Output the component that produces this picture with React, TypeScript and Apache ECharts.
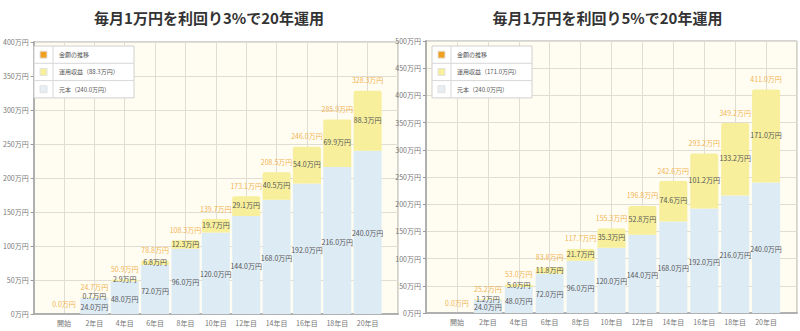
import React, { useEffect, useRef } from "react";
import * as echarts from "echarts";

const categories = ["開始", "2年目", "4年目", "6年目", "8年目", "10年目", "12年目", "14年目", "16年目", "18年目", "20年目"];
const principal = [0, 24, 48, 72, 96, 120, 144, 168, 192, 216, 240];
const gain3 = [0, 0.7, 2.9, 6.8, 12.3, 19.7, 29.1, 40.5, 54.0, 69.9, 88.3];
const total3 = [0.0, 24.7, 50.9, 78.8, 108.3, 139.7, 173.1, 208.5, 246.0, 285.9, 328.3];
const gain5 = [0, 1.2, 5.0, 11.8, 21.7, 35.3, 52.8, 74.6, 101.2, 133.2, 171.0];
const total5 = [0.0, 25.2, 53.0, 83.8, 117.7, 155.3, 196.8, 242.6, 293.2, 349.2, 411.0];
const titles = ["毎月1万円を利回り3%で20年運用", "毎月1万円を利回り5%で20年運用"];
const yMax = [400, 500];

const FONT = '"Noto Sans CJK JP", "Noto Sans", sans-serif';
const C_PRIN = "#ddebf5";
const C_GAIN = "#f7ef9c";
const C_TOTAL = "#f0a020";

const pad = (arr: (number | string)[]) => ["-", ...arr, "-"];

export default function App() {
  const ref = useRef<HTMLDivElement>(null);
  useEffect(() => {
    if (!ref.current) return;
    const chart = echarts.init(ref.current, undefined, { renderer: "svg" });
    const grids = [
      { left: 28, right: 402, top: 42, bottom: 17 },
      { left: 426, right: 3, top: 41, bottom: 18 },
    ];
    const gains = [gain3, gain5];
    const totals = [total3, total5];
    const fmt = (p: any) => {
      const v = Number(p.value);
      return v > 0 ? v.toFixed(1) + "万円" : "";
    };
    const xAxis: any[] = [];
    const yAxis: any[] = [];
    const series: any[] = [];
    const graphic: any[] = [];
    [0, 1].forEach((i) => {
      xAxis.push({
        type: "category",
        gridIndex: i,
        boundaryGap: false,
        data: ["", ...categories, ""],
        axisLine: { lineStyle: { color: "#b0b0b0", width: 2 } },
        axisTick: { show: false },
        axisLabel: { interval: 0, fontSize: 7, color: "#777", margin: 5, fontFamily: FONT },
        splitLine: { show: true, lineStyle: { color: "#e0ddd3", width: 1 } },
      });
      yAxis.push({
        type: "value",
        gridIndex: i,
        min: 0,
        max: yMax[i],
        interval: 50,
        axisLine: { show: true, lineStyle: { color: "#b0b0b0", width: 2 } },
        axisTick: { show: true, length: 3, lineStyle: { color: "#999" } },
        axisLabel: { fontSize: 7, color: "#777", margin: 5, fontFamily: FONT, formatter: "{value}万円" },
        splitLine: { show: true, lineStyle: { color: "#e0ddd3", width: 1 } },
      });
      const lbl = { show: true, position: "inside", fontSize: 7, lineHeight: 8, color: "#555", fontFamily: FONT, textBorderWidth: 0, formatter: fmt };
      series.push({
        type: "bar",
        name: "元本",
        xAxisIndex: i,
        yAxisIndex: i,
        stack: "s" + i,
        barWidth: 28,
        data: pad(principal),
        itemStyle: { color: C_PRIN },
        label: { ...lbl, offset: [0, 1] },
      });
      series.push({
        type: "bar",
        name: "運用収益",
        xAxisIndex: i,
        yAxisIndex: i,
        stack: "s" + i,
        barWidth: 28,
        data: pad(gains[i]),
        itemStyle: { color: C_GAIN, borderRadius: [2, 2, 0, 0] },
        label: { ...lbl, offset: [0, -1] },
      });
      series.push({
        type: "scatter",
        name: "金額の推移",
        xAxisIndex: i,
        yAxisIndex: i,
        symbolSize: 1,
        data: pad(totals[i]),
        itemStyle: { color: "rgba(0,0,0,0)" },
        label: {
          show: true,
          position: "top",
          distance: 6,
          fontSize: 7,
          lineHeight: 8,
          color: C_TOTAL,
          fontFamily: FONT,
          formatter: (p: any) => Number(p.value).toFixed(1) + "万円",
        },
        z: 5,
      });
      const g = grids[i];
      const gx0 = g.left;
      const gx1 = 800 - g.right;
      graphic.push({
        type: "text",
        x: (gx0 + gx1) / 2 - 4,
        y: 17,
        style: { text: titles[i], font: `bold 15px ${FONT}`, fill: "#333", textAlign: "center", textVerticalAlign: "middle" },
      });
      const lx = gx0 + 6;
      const ly = 46;
      const lw = 100;
      const rh = 17.3;
      const items = [
        { c: C_TOTAL, t: "金額の推移" },
        { c: C_GAIN, t: `運用収益（${gains[i][gains[i].length - 1].toFixed(1)}万円）` },
        { c: "#e6eef3", t: `元本（${principal[principal.length - 1].toFixed(1)}万円）` },
      ];
      graphic.push({
        type: "rect",
        shape: { x: lx, y: ly, width: lw, height: rh * 3 },
        style: { fill: "#fff", stroke: "#d0d0d0", lineWidth: 1 },
        z: 10,
      });
      graphic.push({
        type: "line",
        shape: { x1: lx + 19, y1: ly, x2: lx + 19, y2: ly + rh * 3 },
        style: { stroke: "#d8d8d8", lineWidth: 1 },
        z: 11,
      });
      items.forEach((it, k) => {
        if (k > 0) {
          graphic.push({
            type: "line",
            shape: { x1: lx, y1: ly + rh * k, x2: lx + lw, y2: ly + rh * k },
            style: { stroke: "#d8d8d8", lineWidth: 1 },
            z: 11,
          });
        }
        graphic.push({
          type: "rect",
          shape: { x: lx + 6, y: ly + rh * k + rh / 2 - 3.5, width: 7, height: 7 },
          style: { fill: it.c, stroke: "#e2e2e2", lineWidth: 1 },
          z: 12,
        });
        graphic.push({
          type: "text",
          x: lx + 25,
          y: ly + rh * k + rh / 2,
          style: { text: it.t, font: `6px ${FONT}`, fill: "#555", textVerticalAlign: "middle" },
          z: 12,
        });
      });
    });
    chart.setOption({
      animation: false,
      backgroundColor: "#fff",
      grid: grids.map((g) => ({ ...g, show: true, backgroundColor: "#fffcf2", borderColor: "#a8a8a8", borderWidth: 1 })),
      xAxis,
      yAxis,
      series,
      graphic,
    });
    return () => chart.dispose();
  }, []);
  return <div ref={ref} style={{ position: "absolute", left: 0, top: 0, width: 800, height: 331 }} />;
}
